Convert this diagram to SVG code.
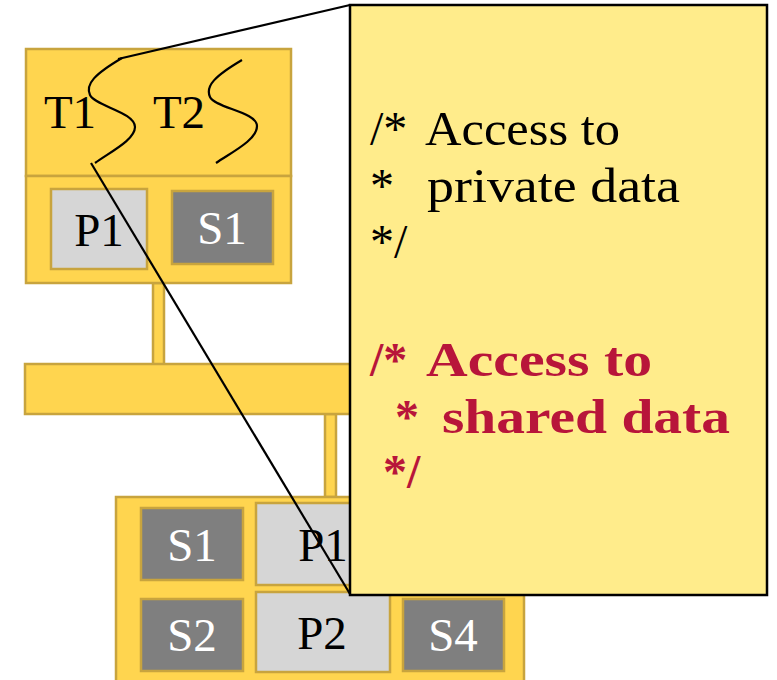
<svg xmlns="http://www.w3.org/2000/svg" width="777" height="680" viewBox="0 0 777 680">
<style>
.gold{fill:#FFD54F;stroke:#C8A43E;stroke-width:2.5}
.pbox{fill:#D6D6D6;stroke:#C8A43E;stroke-width:2.5}
.sbox{fill:#7F7F7F;stroke:#C8A43E;stroke-width:2.5}
.lbl{font-family:"Liberation Serif","DejaVu Serif",serif;font-size:47px;text-anchor:middle}
.dark{fill:#000}
.light{fill:#fff}
.lead{fill:none;stroke:#000;stroke-width:2.2}
.code{font-family:"Liberation Serif","DejaVu Serif",serif;font-size:48px;fill:#000}
.red{fill:#B8153A;font-weight:bold}
</style>
<rect width="777" height="680" fill="#fff"/>
<g id="connectors">
<rect class="gold" x="153" y="283" width="11" height="82"/>
<rect class="gold" x="325" y="414" width="11" height="83"/>
</g>
<g id="bus">
<rect class="gold" x="25" y="364" width="400" height="50"/>
</g>
<g id="node-top">
<rect class="gold" x="26" y="49" width="265" height="127"/>
<rect class="gold" x="26" y="176" width="265" height="107"/>
<text class="lbl dark" x="70" y="128">T1</text>
<text class="lbl dark" x="179" y="128">T2</text>
<rect class="pbox" x="51" y="189" width="96" height="80"/>
<text class="lbl dark" x="99" y="246">P1</text>
<rect class="sbox" x="172" y="191" width="101" height="73"/>
<text class="lbl light" x="222" y="244">S1</text>
<path class="lead" d="M242,60 C215,76 205,86 210,97 C215,108 257,112 257,126 C257,140 232,152 216,163"/>
</g>
<g id="node-bottom">
<rect class="gold" x="116" y="497" width="408" height="190"/>
<rect class="sbox" x="141" y="508" width="102" height="72"/>
<text class="lbl light" x="192" y="561">S1</text>
<rect class="pbox" x="256" y="503" width="134" height="82"/>
<text class="lbl dark" x="323" y="561">P1</text>
<rect class="sbox" x="141" y="599" width="102" height="72"/>
<text class="lbl light" x="192" y="651">S2</text>
<rect class="pbox" x="256" y="592" width="134" height="80"/>
<text class="lbl dark" x="322" y="649">P2</text>
<rect class="sbox" x="403" y="599" width="101" height="72"/>
<text class="lbl light" x="453" y="651">S4</text>
</g>
<g id="leader">
<path class="lead" d="M350,5 L118,59"/>
<path class="lead" d="M122,58 C95,74 85,84 90,95 C95,106 135,112 135,127 C135,140 110,152 95,163"/>
<path class="lead" d="M91,163 L350,594"/>
</g>
<g id="callout">
<rect x="350" y="5" width="417" height="590" fill="#FFEC8B" stroke="#000" stroke-width="2.5"/>
<text class="code" x="370" y="145">/*</text>
<text class="code" x="425" y="145" textLength="195" lengthAdjust="spacingAndGlyphs">Access to</text>
<text class="code" x="370" y="202">*</text>
<text class="code" x="427" y="202" textLength="253" lengthAdjust="spacingAndGlyphs">private data</text>
<text class="code" x="370" y="258">*/</text>
<text class="code red" x="370" y="376">/*</text>
<text class="code red" x="426" y="376" textLength="226" lengthAdjust="spacingAndGlyphs">Access to</text>
<text class="code red" x="395" y="433">*</text>
<text class="code red" x="442" y="433" textLength="288" lengthAdjust="spacingAndGlyphs">shared data</text>
<text class="code red" x="383" y="488">*/</text>
</g>
</svg>
